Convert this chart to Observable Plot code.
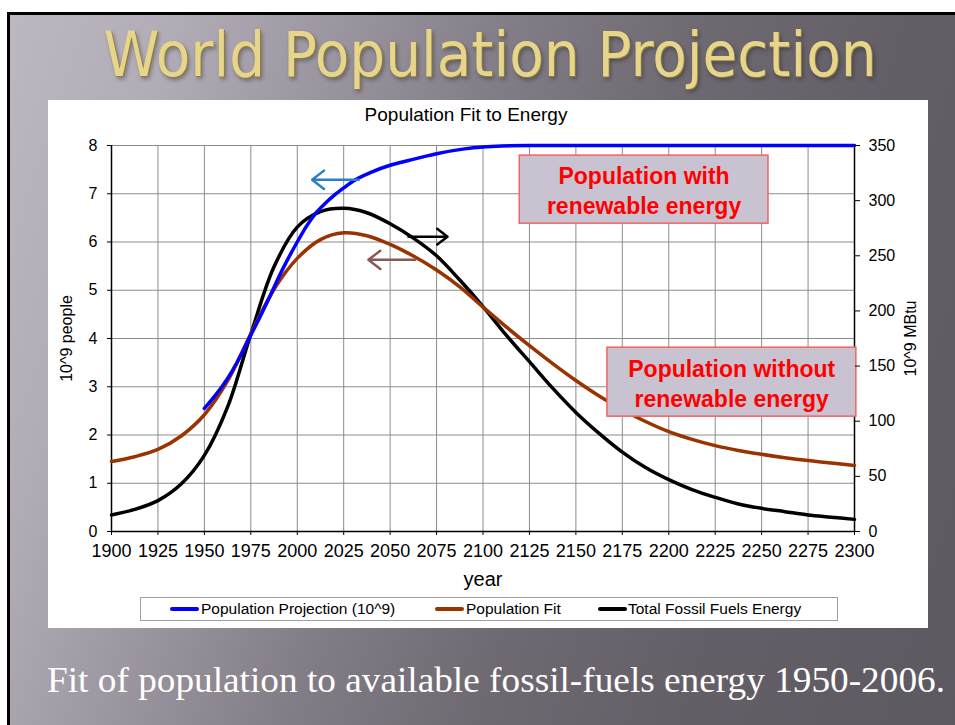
<!DOCTYPE html>
<html>
<head>
<meta charset="utf-8">
<script src="https://cdn.jsdelivr.net/npm/d3@7"></script>
<script src="https://cdn.jsdelivr.net/npm/@observablehq/plot@0.6"></script>
<style>
  html, body { margin: 0; padding: 0; background: #fff; }
  body { width: 955px; height: 725px; overflow: hidden; position: relative; }
  #slide { position: absolute; left: 7px; top: 12px; width: 960px; height: 730px;
    border-left: 3px solid #000; border-top: 3px solid #000;
    background: linear-gradient(108deg, #bcb7c1 0%, #b1acb5 14%, #9a959e 28%, #827d86 42%, #6f6a72 58%, #645f67 75%, #5d5960 100%); }
  #title { position: absolute; left: 489.5px; top: 24px; white-space: nowrap;
    font-family: "DejaVu Sans Condensed", "Liberation Sans Narrow", "DejaVu Sans", sans-serif; font-stretch: condensed;
    font-size: 62px; line-height: 62px; color: #e7d58b; transform-origin: 0 0;
    text-shadow: 1px 1px 0 #8f7d3c, 2px 3px 4px rgba(0,0,0,0.35); }
  #caption { position: absolute; left: 496px; top: 662px; white-space: nowrap;
    font-family: "Liberation Serif", "Times New Roman", serif; font-size: 36px; line-height: 36px;
    color: #ffffff; transform-origin: 0 0; }
  #panel { position: absolute; left: 48px; top: 100px; width: 880px; height: 528px; background: #fff; }
  #panel svg { position: absolute; left: 0; top: 0; }
  #ctitle { position: absolute; left: 418px; top: 5px; transform: translateX(-50%); white-space: nowrap;
    font-family: "Liberation Sans", Arial, sans-serif; font-size: 19px; line-height: 20px; color: #000; }
  #legend { position: absolute; left: 92px; top: 497px; width: 696px; height: 22px; border: 1px solid #a0a0a0; background: #fff;
    font-family: "Liberation Sans", Arial, sans-serif; font-size: 15.5px; color: #000; }
  .sw { position: absolute; top: 9px; width: 29px; height: 4px; border-radius: 2px; }
  .lt { position: absolute; top: 0; line-height: 22px; white-space: nowrap; }
</style>
</head>
<body>
<div id="slide"></div>
<div id="title">World Population Projection</div>
<div id="panel">
  <div id="ctitle">Population Fit to Energy</div>
  <div id="legend"></div>
</div>
<div id="caption">Fit of population to available fossil-fuels energy 1950-2006.</div>
<script>
// ---------------- data ----------------
const projYears = [1950, 1955, 1960, 1965, 1970, 1975, 1980, 1985, 1990, 1995, 2000, 2005, 2010, 2015, 2020, 2025, 2030, 2040, 2050, 2060, 2075, 2090, 2100, 2110, 2125, 2150, 2200, 2250, 2300];
const projPop   = [2.55, 2.78, 3.03, 3.33, 3.68, 4.07, 4.45, 4.85, 5.27, 5.65, 6.0, 6.33, 6.6, 6.8, 6.97, 7.12, 7.26, 7.45, 7.59, 7.69, 7.83, 7.93, 7.97, 7.99, 8.0, 8.0, 8.0, 8.0, 8.0];

const fitYears = [1900, 1912.5, 1925, 1937.5, 1950, 1962.5, 1975, 1987.5, 2000, 2012.5, 2025, 2037.5, 2050, 2062.5, 2075, 2087.5, 2100, 2112.5, 2125, 2137.5, 2150, 2162.5, 2175, 2187.5, 2200, 2212.5, 2225, 2237.5, 2250, 2262.5, 2275, 2287.5, 2300];
const fitPop   = [1.45, 1.55, 1.70, 1.98, 2.42, 3.12, 4.10, 5.02, 5.66, 6.05, 6.19, 6.13, 5.95, 5.71, 5.42, 5.07, 4.65, 4.24, 3.85, 3.48, 3.13, 2.81, 2.53, 2.28, 2.07, 1.91, 1.78, 1.68, 1.60, 1.53, 1.47, 1.42, 1.37];

const energyYears = [1900, 1912.5, 1925, 1937.5, 1950, 1962.5, 1975, 1987.5, 2000, 2012.5, 2025, 2037.5, 2050, 2062.5, 2075, 2087.5, 2100, 2112.5, 2125, 2137.5, 2150, 2162.5, 2175, 2187.5, 2200, 2212.5, 2225, 2237.5, 2250, 2262.5, 2275, 2287.5, 2300];
const energyMBtu  = [15, 20, 28, 43, 69, 113, 179, 240, 276, 290, 293, 289, 279, 266, 250, 228, 204, 178, 154, 130, 108, 89, 72, 58, 47, 38, 31, 25, 21, 18, 15, 13, 11];

const xTicks = [1900, 1925, 1950, 1975, 2000, 2025, 2050, 2075, 2100, 2125, 2150, 2175, 2200, 2225, 2250, 2275, 2300];
const yTicksLeft = [0, 1, 2, 3, 4, 5, 6, 7, 8];
const yTicksRight = [0, 50, 100, 150, 200, 250, 300, 350];

const seriesNames = ["Population Projection (10^9)", "Population Fit", "Total Fossil Fuels Energy"];
const seriesColors = ["#0000ff", "#993300", "#000000"];

// annotation boxes (year / people units)
const boxLabels = ["Population with\nrenewable energy", "Population without\nrenewable energy"];
const boxX1 = [2119.8, 2167.0];
const boxX2 = [2253.7, 2301.0];
const boxY1 = [6.38, 2.38];
const boxY2 = [7.79, 3.81];
const boxTextX = [2186.7, 2233.9];
const boxTextY = [7.09, 3.09];

// arrows (year / people units)
const arrowX1 = [2033.1, 2059.9, 2063.6];
const arrowX2 = [2008.0, 2080.9, 2038.3];
const arrowY  = [7.29, 6.11, 5.63];
const arrowColors = ["#2a80c4", "#000000", "#8a5955"];

// ---------------- build ----------------
const E2P = 8 / 350; // right axis scale into left axis units
const projData = projYears.map((y, i) => ({year: y, v: projPop[i]}));
const fitData = fitYears.map((y, i) => ({year: y, v: fitPop[i]}));
const energyData = energyYears.map((y, i) => ({year: y, v: energyMBtu[i]}));
const boxes = boxLabels.map((t, i) => ({t, x1: boxX1[i], x2: boxX2[i], y1: boxY1[i], y2: boxY2[i], tx: boxTextX[i], ty: boxTextY[i]}));
const arrows = arrowX1.map((x, i) => ({x1: x, x2: arrowX2[i], y: arrowY[i], c: arrowColors[i]}));

const chart = Plot.plot({
  width: 880, height: 528,
  marginLeft: 63, marginRight: 74, marginTop: 45, marginBottom: 97,
  x: {domain: [1900, 2300]},
  y: {domain: [0, 8]},
  style: {fontFamily: "'Liberation Sans', Arial, sans-serif", fontSize: "16px", color: "#000", background: "transparent", overflow: "visible"},
  marks: [
    Plot.gridX({ticks: xTicks, stroke: "#8c8c8c", strokeOpacity: 1}),
    Plot.gridY({ticks: yTicksLeft, stroke: "#8c8c8c", strokeOpacity: 1}),
    Plot.ruleX([1900, 2300], {stroke: "#000", strokeWidth: 1.5}),
    Plot.ruleY([0], {stroke: "#000", strokeWidth: 1.5}),
    Plot.line(energyData, {x: "year", y: d => d.v * E2P, stroke: seriesColors[2], strokeWidth: 3.5, curve: "catmull-rom"}),
    Plot.line(fitData, {x: "year", y: "v", stroke: seriesColors[1], strokeWidth: 3.5, curve: "catmull-rom"}),
    Plot.line(projData, {x: "year", y: "v", stroke: seriesColors[0], strokeWidth: 3.5, curve: "monotone-x"}),
    Plot.arrow(arrows, {x1: "x1", x2: "x2", y1: "y", y2: "y", stroke: "c", strokeWidth: 2.5, headLength: 9, headAngle: 75}),
    Plot.rect(boxes, {x1: "x1", x2: "x2", y1: "y1", y2: "y2", fill: "#c9c3d1", stroke: "#f06464", strokeWidth: 1.5}),
    Plot.text(boxes, {x: "tx", y: "ty", text: "t", fill: "#ff0000", fontWeight: "bold", fontSize: 23, lineHeight: 1.3, fontFamily: "'Liberation Sans', Arial, sans-serif"}),
    Plot.axisY({ticks: yTicksLeft, anchor: "left", tickSize: 4, tickPadding: 10, fontSize: 16, label: null, tickFormat: d => String(d)}),
    Plot.axisY({ticks: yTicksRight.map(v => v * E2P), anchor: "right", tickSize: 5, tickPadding: 9, fontSize: 16, label: null, tickFormat: d => String(Math.round(d / E2P))}),
    Plot.axisX({ticks: xTicks, anchor: "bottom", tickSize: 4, tickPadding: 9, fontSize: 18, label: null, tickFormat: d => String(d)}),
    Plot.text(["10^9 people"], {text: d => d, frameAnchor: "left", textAnchor: "middle", dx: -45, rotate: -90, fontSize: 16}),
    Plot.text(["10^9 MBtu"], {text: d => d, frameAnchor: "right", textAnchor: "middle", dx: 56, rotate: -90, fontSize: 16}),
    Plot.text(["year"], {text: d => d, frameAnchor: "bottom", lineAnchor: "top", dy: 40, fontSize: 20})
  ]
});
document.getElementById("panel").insertBefore(chart, document.getElementById("ctitle"));

// legend
const legend = document.getElementById("legend");
const swLeft = [29, 294, 457];
const txLeft = [60, 325, 487];
seriesNames.forEach((n, i) => {
  const s = document.createElement("div"); s.className = "sw"; s.style.left = swLeft[i] + "px"; s.style.background = seriesColors[i]; legend.appendChild(s);
  const t = document.createElement("div"); t.className = "lt"; t.style.left = txLeft[i] + "px"; t.textContent = n; legend.appendChild(t);
});

// fit title and caption to their widths
function fitText(id, w) {
  const el = document.getElementById(id);
  const nat = el.getBoundingClientRect().width;
  el.style.transform = `scaleX(${w / nat}) translateX(-50%)`;
}
fitText("title", 773);
fitText("caption", 898);
</script>
</body>
</html>
